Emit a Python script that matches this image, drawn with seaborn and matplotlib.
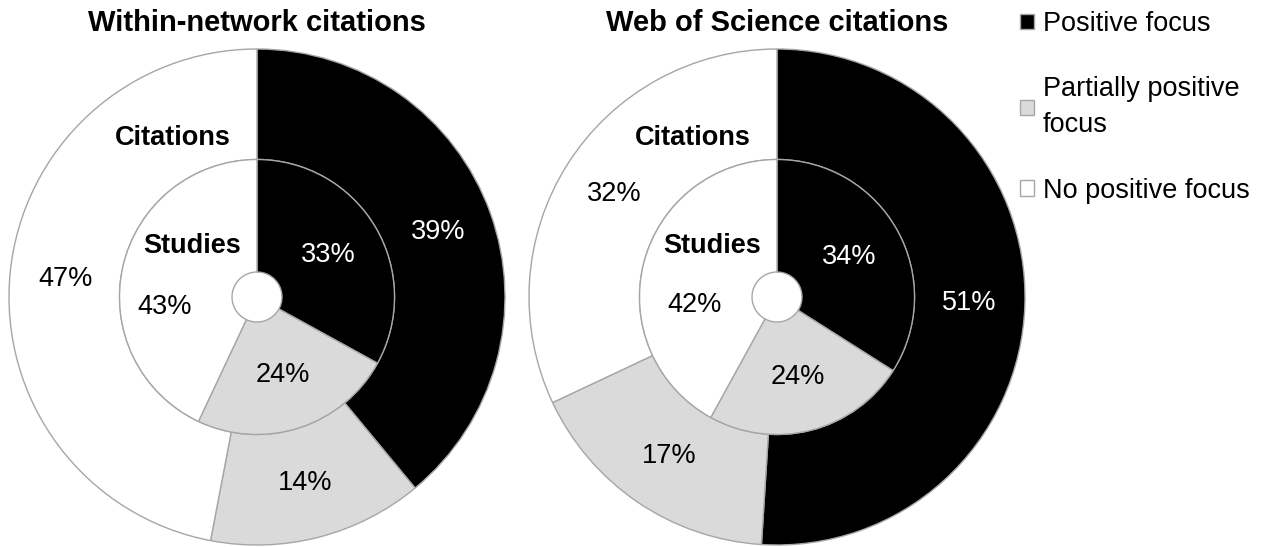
import matplotlib.pyplot as plt
import seaborn as sns
from matplotlib.patches import Patch

# ---------------------------- DATA ---------------------------------

categories = ["Positive focus", "Partially positive\nfocus", "No positive focus"]
titles = ["Within-network citations", "Web of Science citations"]

# outer ring = citations, inner ring = studies
citations_pct = [[39, 14, 47], [51, 17, 32]]
studies_pct = [[33, 24, 43], [34, 24, 42]]

# hand-placed label for the "no positive focus" studies slice (axes units)
studies_white_label_xy = [(-0.37, -0.04), (-0.33, -0.03)]

# ---------------------------- STYLE --------------------------------

sns.set_theme(style="white")
plt.rcParams["font.family"] = ["Liberation Sans", "DejaVu Sans"]
plt.rcParams["text.color"] = "black"

fills = ["#000000", "#dadada", "#ffffff"]
text_colors = ["white", "black", "black"]
edge = "#a6a6a6"

R_OUT = 0.992
R_MID = 0.55
R_HOLE = 0.10
FS = 19.5

fig = plt.figure(figsize=(12.79, 5.47), dpi=100)

centers_px = [257, 777]


def draw_donut(ax, outer, inner, title, white_xy):
    wp = dict(edgecolor=edge, linewidth=1.0)
    _, _, autotexts = ax.pie(
        outer, radius=R_OUT, colors=fills, startangle=90, counterclock=False,
        wedgeprops=dict(width=R_OUT - R_MID, **wp),
        autopct="%d%%", pctdistance=0.77 / R_OUT,
        textprops=dict(fontsize=FS),
    )
    for t, c in zip(autotexts, text_colors):
        t.set_color(c)

    _, _, autotexts2 = ax.pie(
        inner, radius=R_MID, colors=fills, startangle=90, counterclock=False,
        wedgeprops=dict(width=R_MID - R_HOLE, **wp),
        autopct="%d%%", pctdistance=0.33 / R_MID,
        textprops=dict(fontsize=FS),
    )
    for t, c in zip(autotexts2, text_colors):
        t.set_color(c)
    autotexts2[2].set_position(white_xy)

    ax.text(-0.335, 0.635, "Citations", ha="center", va="center",
            fontsize=FS, fontweight="bold")
    ax.text(-0.26, 0.205, "Studies", ha="center", va="center",
            fontsize=FS, fontweight="bold")
    ax.set_xlim(-1, 1)
    ax.set_ylim(-1, 1)
    ax.set_aspect("equal")
    ax.axis("off")
    pos = ax.get_position()
    fig.text(pos.x0 + pos.width / 2, 1 - 23 / 547, title,
             ha="center", va="center", fontsize=21, fontweight="bold")


for i in range(2):
    cx = centers_px[i]
    ax = fig.add_axes([(cx - 250) / 1279, (547 - 297 - 250) / 547,
                       500 / 1279, 500 / 547])
    draw_donut(ax, citations_pct[i], studies_pct[i], titles[i],
               studies_white_label_xy[i])

handles = [Patch(facecolor=f, edgecolor=edge, linewidth=1.0) for f in fills]
leg = fig.legend(handles, categories, loc="upper left",
                 bbox_to_anchor=(1020 / 1279, 1 - 11 / 547), frameon=False,
                 fontsize=FS, handlelength=0.5, handleheight=0.5,
                 handletextpad=0.35, labelspacing=1.45, borderaxespad=0,
                 borderpad=0)
for t in leg.get_texts():
    t.set_linespacing(1.5)

plt.savefig("out.png", dpi=100)
